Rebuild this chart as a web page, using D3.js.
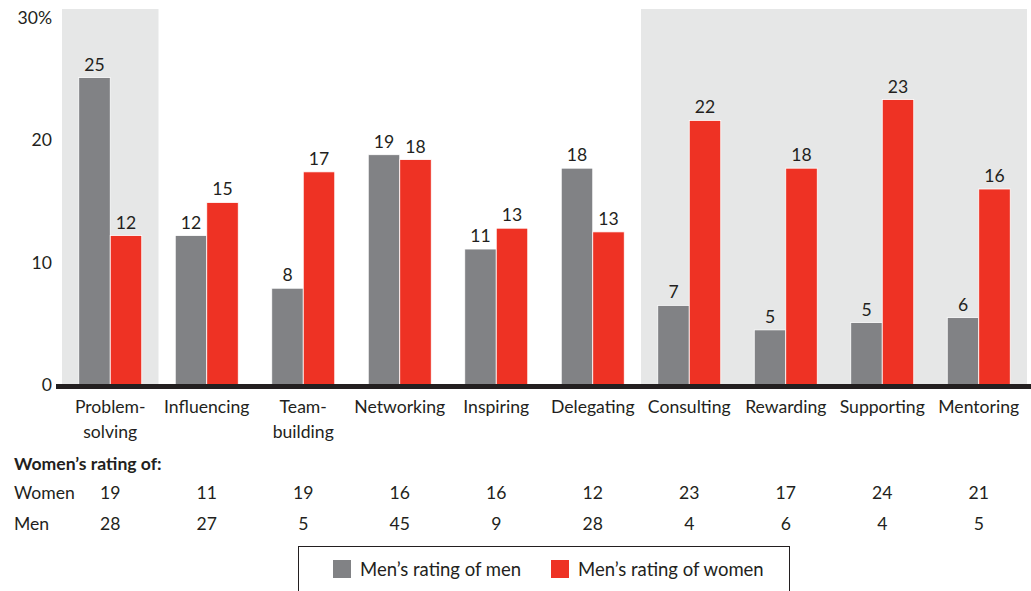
<!DOCTYPE html>
<html>
<head>
<meta charset="utf-8">
<script src="https://cdn.jsdelivr.net/npm/d3@7"></script>
<style>
  body { margin: 0; background: #fff; }
  svg text { font-family: Lato, "Noto Sans", sans-serif; fill: #231f20; }
</style>
</head>
<body>
<div id="chart"></div>
<script>
const categories = [["Problem-", "solving"], ["Influencing"], ["Team-", "building"], ["Networking"],
    ["Inspiring"], ["Delegating"], ["Consulting"], ["Rewarding"], ["Supporting"], ["Mentoring"]];
const menOfMen = [25.1, 12.2, 7.9, 18.8, 11.1, 17.7, 6.5, 4.5, 5.1, 5.5];
const menOfWomen = [12.2, 14.9, 17.4, 18.4, 12.8, 12.5, 21.6, 17.7, 23.3, 16.0];
const womenOfWomen = [19, 11, 19, 16, 16, 12, 23, 17, 24, 21];
const womenOfMen = [28, 27, 5, 45, 9, 28, 4, 6, 4, 5];
const shadedIdx = [[0, 0], [6, 9]];
const yTicks = [0, 10, 20, 30];
const series = ["Men\u2019s rating of men", "Men\u2019s rating of women"];

const W = 1031, H = 591;
const gray = "#818285", red = "#ee3224", shade = "#e6e7e7";
const fs = 17.6;

const svg = d3.select("#chart").append("svg")
    .attr("width", W).attr("height", H);

const keys = categories.map((d, i) => i);
const x = d3.scaleBand().domain(keys).range([62, 1027]);
const x1 = d3.scaleBand().domain([0, 1]).range([x.bandwidth() / 2 - 31.5, x.bandwidth() / 2 + 31.5]);
const y = d3.scaleLinear().domain([0, 30]).range([385, 17.5]);

// shaded regions
svg.append("g").selectAll("rect").data(shadedIdx).enter().append("rect")
    .attr("x", d => x(d[0]))
    .attr("width", d => x(d[1]) + x.bandwidth() - x(d[0]))
    .attr("y", 9).attr("height", y(0) - 9)
    .attr("fill", shade);

// bars
const groups = svg.append("g").selectAll("g").data(keys).enter().append("g")
    .attr("transform", d => `translate(${x(d)},0)`);

[menOfMen, menOfWomen].forEach((vals, s) => {
    groups.append("rect")
        .attr("x", x1(s))
        .attr("width", x1.bandwidth())
        .attr("y", d => y(vals[d]))
        .attr("height", d => y(0) - y(vals[d]))
        .attr("fill", s === 0 ? gray : red)
        .attr("stroke", "#fff").attr("stroke-width", 0.8);
    groups.append("text")
        .attr("x", x1(s) + x1.bandwidth() / 2)
        .attr("y", d => y(vals[d]) - 7)
        .attr("text-anchor", "middle")
        .attr("font-size", fs)
        .text(d => Math.round(vals[d]));
});

// y axis labels
svg.append("g").selectAll("text").data(yTicks).enter().append("text")
    .attr("x", 52).attr("y", d => y(d) + 6)
    .attr("text-anchor", "end").attr("font-size", fs)
    .text(d => d === 30 ? d + "%" : d);

// baseline
svg.append("line")
    .attr("x1", 56).attr("x2", W)
    .attr("y1", y(0) + 1.5).attr("y2", y(0) + 1.5)
    .attr("stroke", "#231f20").attr("stroke-width", 5);

// category labels
const cx = i => x(i) + x.bandwidth() / 2;
const cat = svg.append("g").selectAll("text").data(keys).enter().append("text")
    .attr("x", cx).attr("y", 413)
    .attr("text-anchor", "middle").attr("font-size", fs);
cat.selectAll("tspan").data(d => categories[d].map(t => [d, t])).enter().append("tspan")
    .attr("x", d => cx(d[0]))
    .attr("dy", (d, j) => j === 0 ? 0 : 25)
    .text(d => d[1]);

// table
svg.append("text").attr("x", 14).attr("y", 470)
    .attr("font-size", fs).attr("font-weight", "bold")
    .text("Women\u2019s rating of:");

[["Women", womenOfWomen, 499], ["Men", womenOfMen, 530]].forEach(([label, vals, yy]) => {
    svg.append("text").attr("x", 14).attr("y", yy).attr("font-size", fs).text(label);
    svg.append("g").selectAll("text").data(keys).enter().append("text")
        .attr("x", cx).attr("y", yy)
        .attr("text-anchor", "middle").attr("font-size", fs)
        .text(d => vals[d]);
});

// legend
svg.append("rect").attr("x", 298.5).attr("y", 546.5)
    .attr("width", 491).attr("height", 50)
    .attr("fill", "none").attr("stroke", "#231f20").attr("stroke-width", 1);
const legX = [333, 551];
series.forEach((s, i) => {
    svg.append("rect").attr("x", legX[i]).attr("y", 560)
        .attr("width", 18).attr("height", 18)
        .attr("fill", i === 0 ? gray : red);
    svg.append("text").attr("x", legX[i] + 27).attr("y", 576)
        .attr("font-size", 18.5).text(s);
});
</script>
</body>
</html>
